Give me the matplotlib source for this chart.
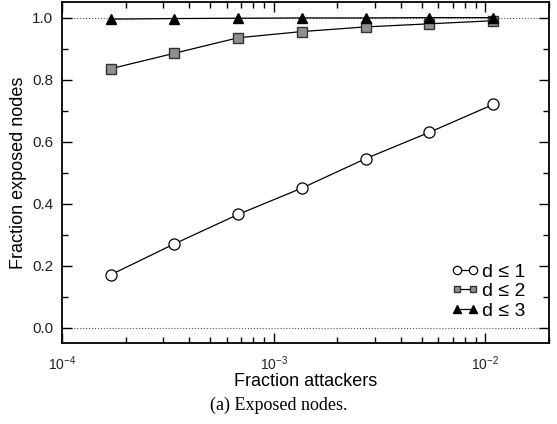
import matplotlib
matplotlib.use('Agg')
import matplotlib.pyplot as plt
from matplotlib.ticker import LogLocator, MultipleLocator, FixedLocator, NullFormatter

plt.rcParams['font.family'] = ['Liberation Sans', 'DejaVu Sans']
plt.rcParams['mathtext.fontset'] = 'custom'
plt.rcParams['mathtext.rm'] = 'Liberation Sans'

attackers = [1.7e-4, 3.4e-4, 6.8e-4, 1.36e-3, 2.72e-3, 5.44e-3, 1.09e-2]
d1 = [0.17, 0.27, 0.365, 0.45, 0.545, 0.63, 0.72]
d2 = [0.835, 0.885, 0.935, 0.955, 0.97, 0.98, 0.99]
d3 = [0.995, 0.997, 0.998, 0.999, 0.999, 1.0, 1.0]
labels = ['d \u2264 1', 'd \u2264 2', 'd \u2264 3']

fig = plt.figure(figsize=(5.57, 4.24), dpi=100)
ax = fig.add_axes([0.111, 0.191, 0.875, 0.804])

ax.axhline(0, color='#555555', lw=0.8, ls=':', zorder=1)
ax.axhline(1, color='#555555', lw=0.8, ls=':', zorder=1)

ax.plot(attackers, d1, '-o', color='black', lw=0.9, ms=8, mfc='white', mec='black', mew=0.9, label=labels[0])
ax.plot(attackers, d2, '-s', color='black', lw=0.9, ms=6.5, mfc='#909090', mec='#333333', mew=1.0, label=labels[1])
ax.plot(attackers, d3, '-^', color='black', lw=0.9, ms=7.5, mfc='black', mec='black', label=labels[2])

ax.set_xscale('log')
ax.set_xlim(1e-4, 2e-2)
ax.set_ylim(-0.05, 1.05)
ax.xaxis.set_major_locator(FixedLocator([1e-4, 1e-3, 1e-2]))
ax.xaxis.set_minor_locator(LogLocator(base=10, subs=range(2, 10), numticks=20))
ax.xaxis.set_minor_formatter(NullFormatter())
ax.set_xticklabels(['$10^{-4}$', '$10^{-3}$', '$10^{-2}$'])
ax.yaxis.set_major_locator(MultipleLocator(0.2))
ax.yaxis.set_minor_locator(MultipleLocator(0.1))
ax.set_yticklabels([f'{v:.1f}' for v in ax.get_yticks()])

ax.tick_params(which='both', direction='in', top=True, right=True, width=1.0, color='black')
ax.tick_params(which='major', length=7.5, labelsize=11, pad=6, labelcolor='#222222')
ax.tick_params(which='minor', length=4.5)
ax.tick_params(axis='x', which='major', labelsize=10, pad=8)
for s in ax.spines.values():
    s.set_linewidth(1.3)

ax.set_xlabel('Fraction attackers', fontsize=13, labelpad=0)
ax.set_ylabel('Fraction exposed nodes', fontsize=13, labelpad=4)

leg = ax.legend(loc='lower right', frameon=False, fontsize=14, numpoints=2,
                handlelength=1.4, handletextpad=0.2, labelspacing=0.1,
                markerscale=0.75, borderaxespad=0.8)

fig.text(0.5, 0.045, '(a) Exposed nodes.', ha='center', va='center', fontsize=13,
         family=['Liberation Serif', 'DejaVu Serif'])

fig.savefig('out.png', dpi=100)
